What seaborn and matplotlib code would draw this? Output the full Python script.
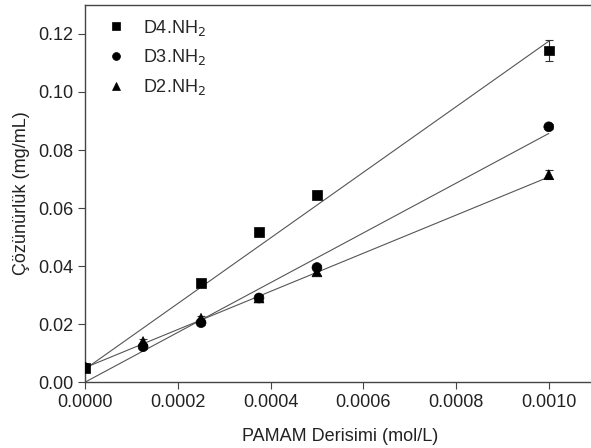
import numpy as np
import pandas as pd
import seaborn as sns
import matplotlib.pyplot as plt

sns.set_style("ticks")
plt.rcParams["font.family"] = ["Liberation Sans", "DejaVu Sans"]

# Data
conc = [0.0, 0.000125, 0.00025, 0.000375, 0.0005, 0.001]
d4_conc = [0.0, 0.00025, 0.000375, 0.0005, 0.001]
d4_vals = [0.0050, 0.0342, 0.0518, 0.0646, 0.1143]
d4_err = [0.0005, 0.0006, 0.0008, 0.0012, 0.0035]
d3_vals = [0.0050, 0.0122, 0.0205, 0.0290, 0.0395, 0.0880]
d3_err = [0.0005, 0.0008, 0.0008, 0.0010, 0.0008, 0.0008]
d2_vals = [0.0050, 0.0140, 0.0220, 0.0290, 0.0380, 0.0715]
d2_err = [0.0005, 0.0008, 0.0008, 0.0010, 0.0012, 0.0015]

# linear fit lines (intercept, value at 0.001)
fit_x = [0.0, 0.001]
fit_d4 = [0.0045, 0.1175]
fit_d3 = [0.0000, 0.0857]
fit_d2 = [0.0050, 0.0707]

labels = ["D4.NH$_2$", "D3.NH$_2$", "D2.NH$_2$"]

df = pd.concat([
    pd.DataFrame({"x": d4_conc, "y": d4_vals, "err": d4_err, "series": labels[0]}),
    pd.DataFrame({"x": conc, "y": d3_vals, "err": d3_err, "series": labels[1]}),
    pd.DataFrame({"x": conc, "y": d2_vals, "err": d2_err, "series": labels[2]}),
])

fig = plt.figure(figsize=(5.91, 4.48), dpi=100)
ax = fig.add_axes([0.144, 0.147, 0.863, 0.842])

for fy in [fit_d4, fit_d3, fit_d2]:
    ax.plot(fit_x, fy, color="#555555", lw=0.8, zorder=1)

ax.errorbar(df["x"], df["y"], yerr=df["err"], fmt="none", ecolor="#333333",
            elinewidth=0.8, capsize=3, capthick=0.8, zorder=2)

sns.scatterplot(data=df, x="x", y="y", style="series",
                markers={labels[0]: "s", labels[1]: "o", labels[2]: "^"},
                color="black", s=50, edgecolor="black", linewidth=0.5,
                ax=ax, zorder=3)

ax.set_xlim(0, 0.0011)
ax.set_ylim(0, 0.13)
ax.set_xticks([0.0, 0.0002, 0.0004, 0.0006, 0.0008, 0.0010])
ax.set_xticklabels(["0.0000", "0.0002", "0.0004", "0.0006", "0.0008", "0.0010"])
ax.set_yticks([0.0, 0.02, 0.04, 0.06, 0.08, 0.10, 0.12])
ax.set_yticklabels(["0.00", "0.02", "0.04", "0.06", "0.08", "0.10", "0.12"])
ax.tick_params(labelsize=13, direction="out", length=5, width=0.8, colors="#444444",
               labelcolor="#222222")
for sp in ax.spines.values():
    sp.set_color("#444444")
    sp.set_linewidth(1.0)
ax.spines["right"].set_visible(False)

ax.set_xlabel("PAMAM Derisimi (mol/L)", fontsize=13, color="#222222", labelpad=12)
ax.set_ylabel("Çözünürlük (mg/mL)", fontsize=13, color="#222222", labelpad=6)

leg = ax.legend(loc="upper left", frameon=False, fontsize=13, title=None,
                handletextpad=0.5, labelspacing=0.55, borderaxespad=0.3,
                markerscale=0.8, bbox_to_anchor=(0.0, 1.0))

fig.savefig("out.png", dpi=100)
